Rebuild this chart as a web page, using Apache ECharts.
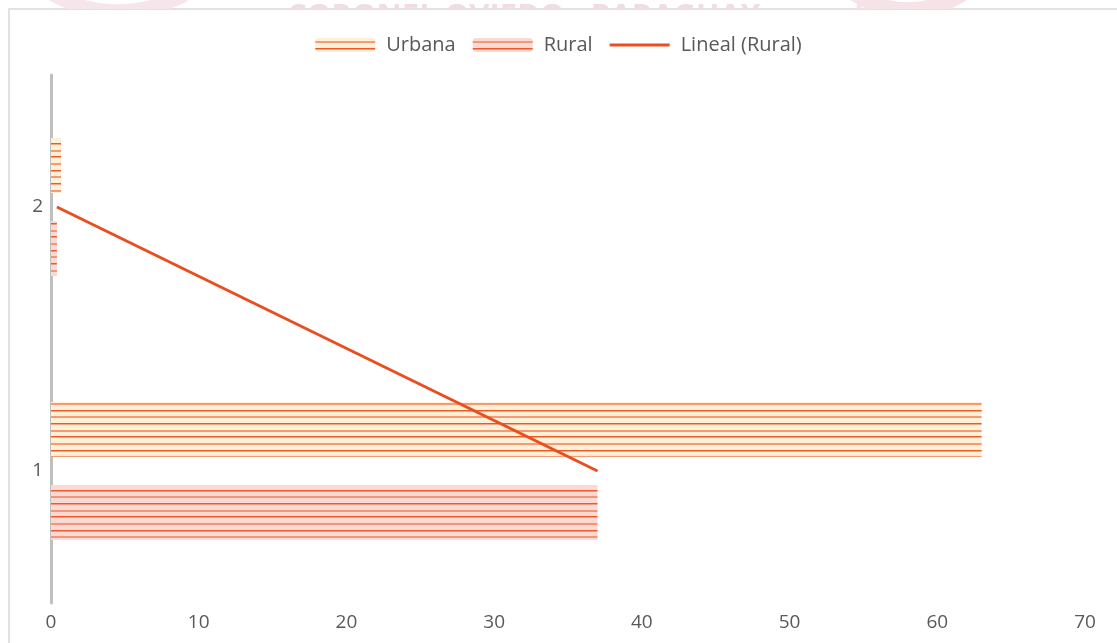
<!DOCTYPE html>
<html>
<head>
<meta charset="utf-8">
<script src="https://cdn.jsdelivr.net/npm/echarts@6/dist/echarts.min.js"></script>
<style>
  html, body { margin: 0; padding: 0; background: #ffffff; }
  #wrap { position: relative; width: 1117px; height: 643px; }
  #chart { width: 1117px; height: 643px; }
  /* faint header band above the chart panel; only its top strip is visible */
  #band {
    position: absolute; left: 0; top: 0; width: 1117px; height: 9px;
    overflow: hidden; pointer-events: none; z-index: 2;
  }
  #band svg { position: absolute; left: 0; top: 0; }
</style>
</head>
<body>
<div id="wrap">
  <div id="chart"></div>
  <div id="band">
    <svg width="1117" height="40" viewBox="0 0 1117 40">
      <path d="M45,-10 Q110,30 185,-5" stroke="#F6E6EB" stroke-width="14" fill="none"/>
      <path d="M850,-10 Q905,30 965,-8" stroke="#F5E3E8" stroke-width="16" fill="none"/>
      <circle cx="868" cy="8" r="9" stroke="#F5E3E8" stroke-width="5" fill="none"/>
      <text x="287" y="26" font-family="Open Sans, Noto Sans, sans-serif" font-weight="bold"
            font-size="31" fill="#F1DCE2">CORONEL OVIEDO - PARAGUAY</text>
    </svg>
  </div>
</div>
<script>
// Categories on the vertical axis (bottom to top)
const categories = ['1', '2'];
// Series values
const urbana = [63, 0.68];
const rural = [37, 0.4];
// Value axis ticks
const xTicks = { min: 0, max: 70, interval: 10 };
const legendNames = ['Urbana', 'Rural', 'Lineal (Rural)'];

// Least-squares linear trend of the Rural series over category index
function linearTrend(values) {
  const n = values.length;
  let sx = 0, sy = 0, sxx = 0, sxy = 0;
  values.forEach((v, i) => { sx += i; sy += v; sxx += i * i; sxy += i * v; });
  const b = (n * sxy - sx * sy) / (n * sxx - sx * sx);
  const a = (sy - b * sx) / n;
  return values.map((_, i) => +(a + b * i).toFixed(4));
}
const ruralTrend = linearTrend(rural);

// Striped fill: light background with horizontal orange rules
function stripes(bg, lineA, lineB) {
  const c = document.createElement('canvas');
  c.width = 8; c.height = 40;
  const g = c.getContext('2d');
  g.fillStyle = bg; g.fillRect(0, 0, 8, 40);
  for (let k = 0; k < 6; k++) {
    const y = Math.round(3 + k * 6.667);
    if (k % 2 === 0) { g.fillStyle = lineA; g.fillRect(0, y, 8, 2); }
    else { g.fillStyle = lineB; g.fillRect(0, y, 8, 1.5); }
  }
  return { image: c, repeat: 'repeat' };
}
const urbanaFill = stripes('#FDF0D9', '#F59A72', '#EE5A26');
const ruralFill = stripes('#F9D9D3', '#F29679', '#EC5A2C');

const FONT = '"Open Sans", "Noto Sans", sans-serif';
const TREND = '#E84E1F';
// thin line swatch for the trend entry (degenerate points keep the icon box height)
const lineIcon = 'path://M0,0L0.01,0L0,0ZM0,14L0.01,14L0,14ZM0,5.5H60V8.5H0Z';

const chart = echarts.init(document.getElementById('chart'), null, { renderer: 'canvas' });

chart.setOption({
  backgroundColor: '#ffffff',
  animation: false,
  textStyle: { fontFamily: FONT },
  graphic: [
    // chart panel border
    { type: 'rect', z: -1, silent: true, shape: { x: 9, y: 9, width: 1130, height: 660 },
      style: { fill: '#ffffff', stroke: '#D9D9D9', lineWidth: 1.5 } }
  ],
  legend: {
    top: 30,
    left: 'center',
    itemWidth: 60,
    itemHeight: 14,
    itemGap: 17,
    textStyle: { fontSize: 20, color: '#595959', fontFamily: FONT, padding: [0, 0, 0, 6] },
    data: [
      { name: legendNames[0] },
      { name: legendNames[1] },
      { name: legendNames[2], icon: lineIcon, itemStyle: { color: TREND } }
    ]
  },
  grid: { left: 51, right: 32, top: 75, bottom: 40, containLabel: false },
  xAxis: {
    type: 'value',
    min: xTicks.min, max: xTicks.max, interval: xTicks.interval,
    axisLine: { show: false },
    axisTick: { show: false },
    splitLine: { show: false },
    axisLabel: { fontSize: 19, color: '#595959', margin: 10, fontFamily: FONT }
  },
  yAxis: {
    type: 'category',
    data: categories,
    axisLine: { show: true, lineStyle: { color: '#BFBFBF', width: 3 } },
    axisTick: { show: false },
    splitLine: { show: false },
    axisLabel: { fontSize: 19, color: '#595959', margin: 8, fontFamily: FONT }
  },
  series: [
    {
      name: legendNames[0], type: 'bar', data: urbana,
      barWidth: 55, barGap: '51%',
      itemStyle: { color: urbanaFill }
    },
    {
      name: legendNames[1], type: 'bar', data: rural,
      barWidth: 55, barGap: '51%',
      itemStyle: { color: ruralFill }
    },
    {
      name: legendNames[2], type: 'line', data: ruralTrend,
      symbol: 'none', z: 5,
      lineStyle: { color: TREND, width: 3 },
      itemStyle: { color: TREND }
    }
  ]
});
</script>
</body>
</html>
